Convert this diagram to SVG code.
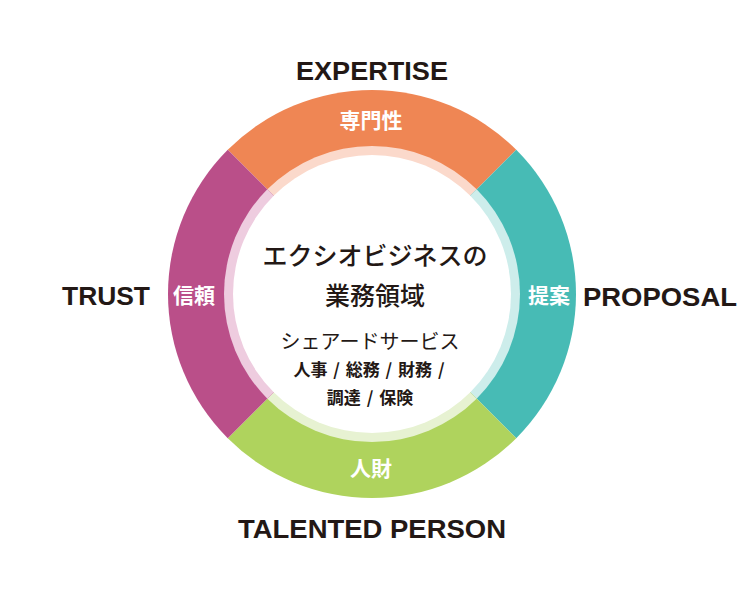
<svg xmlns="http://www.w3.org/2000/svg" width="750" height="600" viewBox="0 0 750 600">
<style>
.en{font-family:"Liberation Sans",Arial,sans-serif;font-weight:700;font-size:25px;fill:#231815;text-anchor:middle}
.seg{font-family:"Noto Sans CJK JP","Noto Sans",sans-serif;font-weight:700;font-size:21px;fill:#ffffff;text-anchor:middle}
.ctr{font-family:"Noto Sans CJK JP","Noto Sans",sans-serif;fill:#231815;text-anchor:middle}
</style>
<rect width="750" height="600" fill="#ffffff"/>
<g id="expertise">
<path d="M372,294 L227.75,149.75 A204,204 0 0 1 516.25,149.75 Z" fill="#EF8654"/>
<path d="M372,294 L267.35,189.35 A148,148 0 0 1 476.65,189.35 Z" fill="#FBD9CB"/>
<text class="en" x="372" y="80" textLength="152" lengthAdjust="spacingAndGlyphs">EXPERTISE</text>
<text class="seg" x="371" y="128">専門性</text>
</g>
<g id="proposal">
<path d="M372,294 L516.25,149.75 A204,204 0 0 1 516.25,438.25 Z" fill="#47BBB5"/>
<path d="M372,294 L476.65,189.35 A148,148 0 0 1 476.65,398.65 Z" fill="#CDEDEB"/>
<text class="en" x="660" y="306" textLength="154" lengthAdjust="spacingAndGlyphs">PROPOSAL</text>
<text class="seg" x="549" y="303">提案</text>
</g>
<g id="talented-person">
<path d="M372,294 L516.25,438.25 A204,204 0 0 1 227.75,438.25 Z" fill="#AFD35D"/>
<path d="M372,294 L476.65,398.65 A148,148 0 0 1 267.35,398.65 Z" fill="#E7F2D2"/>
<text class="en" x="372" y="538" textLength="268" lengthAdjust="spacingAndGlyphs">TALENTED PERSON</text>
<text class="seg" x="371" y="476">人財</text>
</g>
<g id="trust">
<path d="M372,294 L227.75,438.25 A204,204 0 0 1 227.75,149.75 Z" fill="#BA4F89"/>
<path d="M372,294 L267.35,398.65 A148,148 0 0 1 267.35,189.35 Z" fill="#EECCDF"/>
<text class="en" x="106" y="305" textLength="88" lengthAdjust="spacingAndGlyphs">TRUST</text>
<text class="seg" x="194" y="303">信頼</text>
</g>
<g id="center">
<circle cx="372" cy="294" r="139" fill="#ffffff"/>
<text class="ctr" x="375" y="265" font-size="25" font-weight="500">エクシオビジネスの</text>
<text class="ctr" x="375" y="305" font-size="25" font-weight="500">業務領域</text>
<text class="ctr" x="370" y="349" font-size="20" font-weight="400">シェアードサービス</text>
<text class="ctr" x="369" y="376" font-size="17" font-weight="700" word-spacing="2">人事 / 総務 / 財務 /</text>
<text class="ctr" x="370" y="404" font-size="17" font-weight="700" word-spacing="2">調達 / 保険</text>
</g>
</svg>
